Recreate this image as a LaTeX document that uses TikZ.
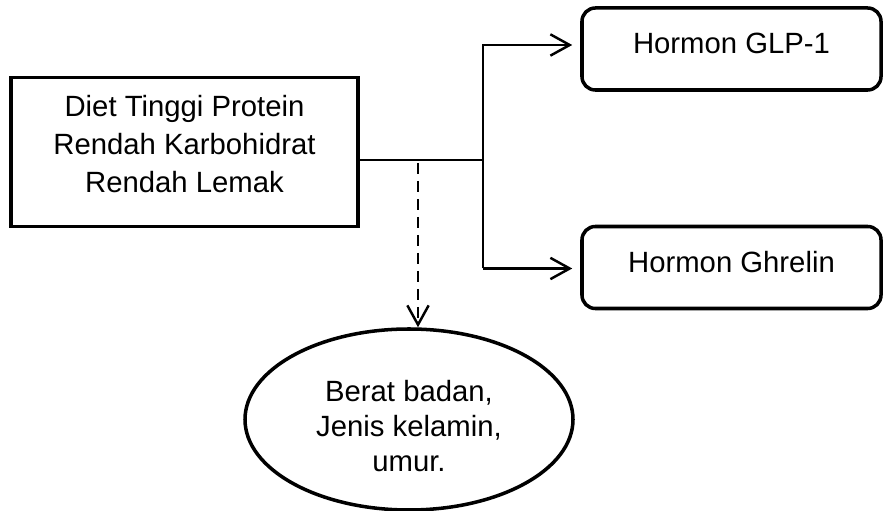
\documentclass[tikz,border=0pt]{standalone}
\usepackage{fontspec}
\setmainfont{Liberation Sans}
\usetikzlibrary{positioning, shapes.geometric, arrows.meta}

\begin{document}
\begin{tikzpicture}[
    >={Straight Barb[length=0.58cm, width=0.64cm]},
    dietbox/.style={draw, line width=3pt, minimum width=10.41cm, minimum height=4.48cm, align=center, font=\fontsize{25}{32.4}\selectfont},
    hormonbox/.style={draw, line width=3pt, rounded corners=0.4cm, minimum width=8.97cm, minimum height=2.46cm, text height=0.7cm, text depth=0.4cm, font=\fontsize{25}{30}\selectfont},
    faktorbox/.style={draw, ellipse, line width=3pt, minimum width=9.84cm, minimum height=5.43cm, inner sep=0pt, align=center, font=\fontsize{25}{29.9}\selectfont},
    link/.style={line width=2.1pt}]
  \useasboundingbox (0,0) rectangle (26.49,15.33);

  \node[dietbox] (diet) at (5.535,10.77) {Diet Tinggi Protein\\Rendah Karbohidrat\\Rendah Lemak\rule[-0.46cm]{0pt}{0pt}};
  \node[hormonbox] (glp) at (21.945,13.86) {Hormon GLP-1};
  \node[hormonbox] (ghrelin) at (21.945,7.305) {Hormon Ghrelin};
  \node[faktorbox] (faktor) at (12.27,2.745) {\rule{0pt}{1.03cm}Berat badan,\\Jenis kelamin,\\umur.};

  % percabangan
  \coordinate (j) at (14.49,10.53);
  \coordinate (jt) at (14.49,13.98);
  \coordinate (jb) at (14.49,7.275);
  \coordinate (jd) at (12.54,10.53);

  \draw[link] (diet.east |- j) -- (j);
  \draw[link, ->, shorten >=0.24cm] (jb) -- (jt) -- (jt -| glp.west);
  \draw[link, ->, shorten >=0.24cm] (jb) -- (jb -| ghrelin.west);
  \draw[link, ->, dash pattern=on 0.33cm off 0.21cm, dash phase=-0.09cm] (jd) -- (jd |- faktor.north);
\end{tikzpicture}
\end{document}
